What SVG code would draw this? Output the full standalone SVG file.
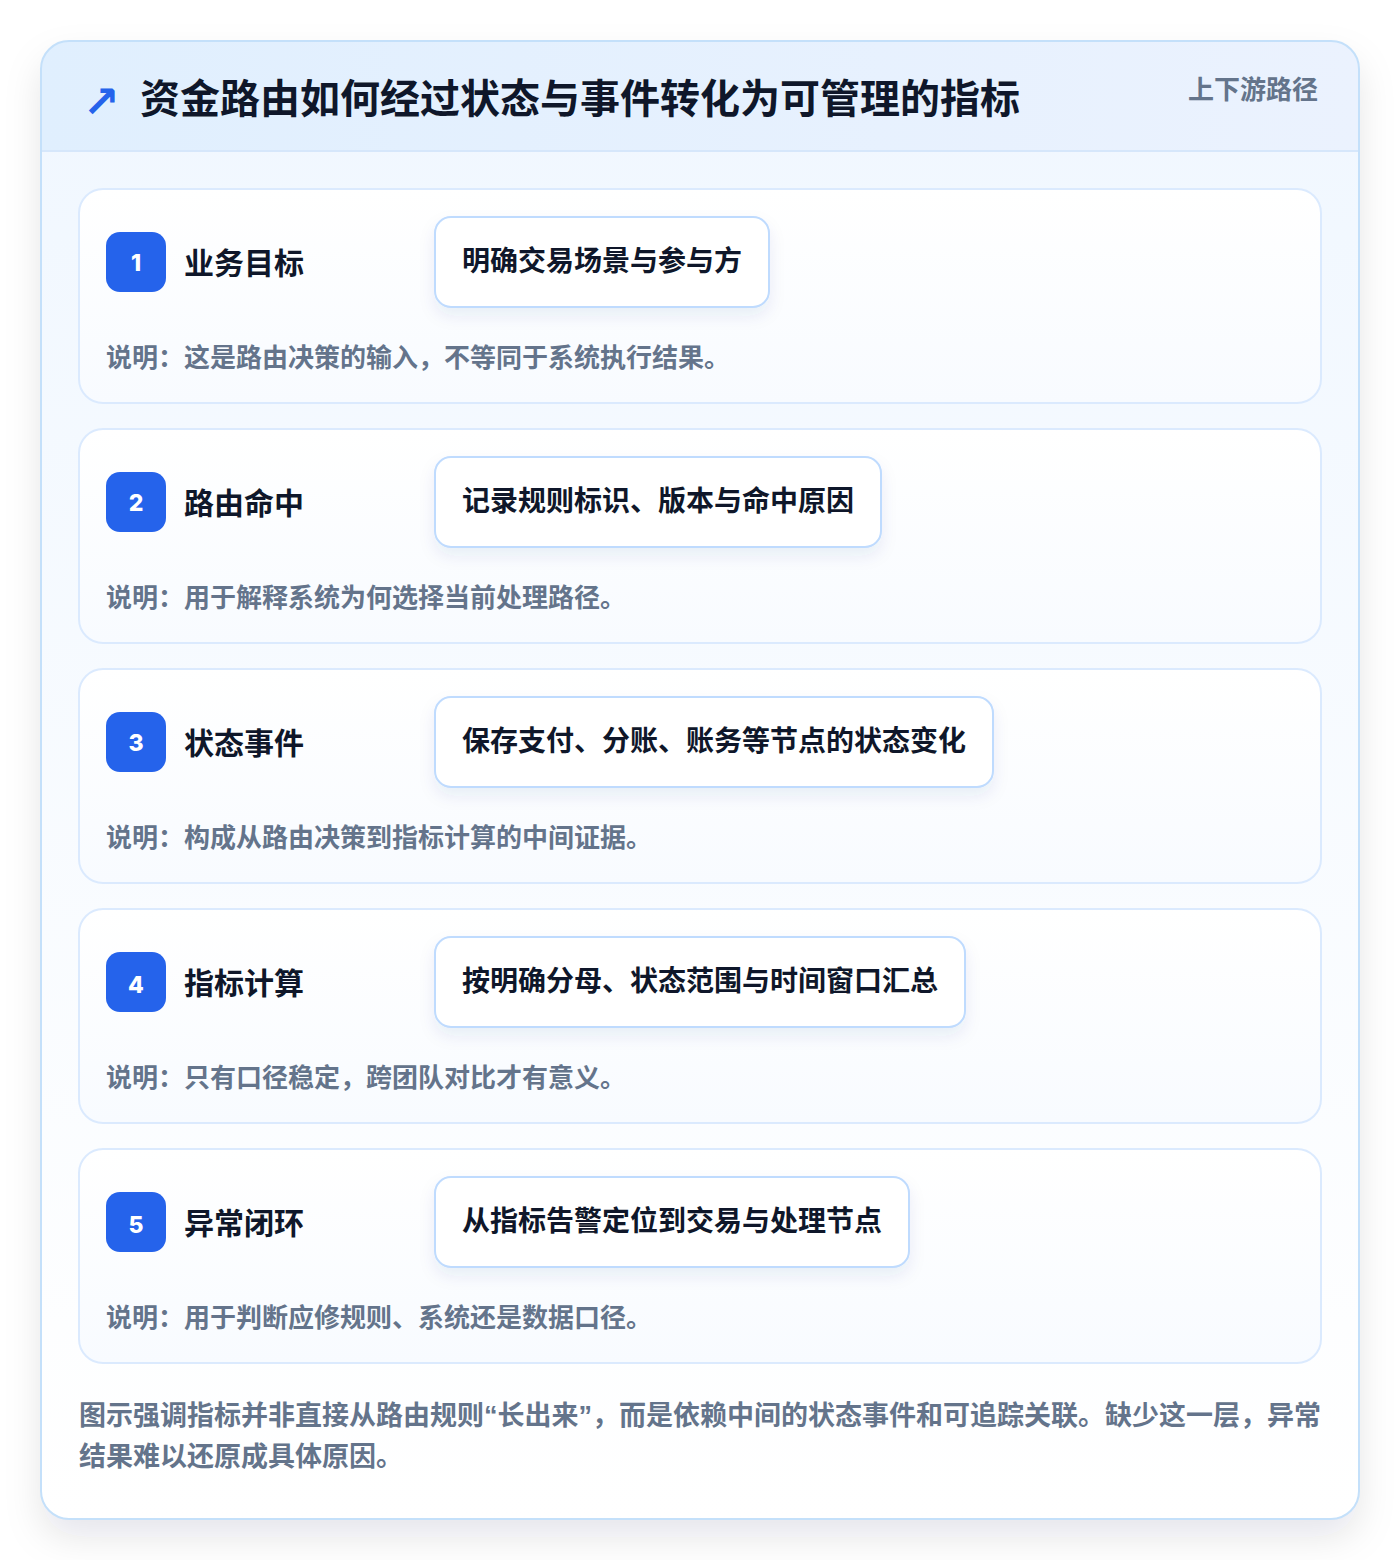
<svg xmlns="http://www.w3.org/2000/svg" width="1400" height="1560" viewBox="0 0 1400 1560">
<defs>
<linearGradient id="hdr" x1="0" y1="0" x2="1" y2="0"><stop offset="0" stop-color="#e0effe"/><stop offset="1" stop-color="#ebf2fe"/></linearGradient>
<linearGradient id="body" x1="0" y1="0" x2="0" y2="1"><stop offset="0" stop-color="#f0f7ff"/><stop offset="1" stop-color="#ffffff"/></linearGradient>
<linearGradient id="cardg" x1="0" y1="0" x2="0" y2="1"><stop offset="0" stop-color="#ffffff"/><stop offset="1" stop-color="#f8fbff"/></linearGradient>
<filter id="outerShadow" x="-10%" y="-10%" width="120%" height="120%"><feDropShadow dx="0" dy="18" stdDeviation="18" flood-color="#0f172a" flood-opacity="0.10"/></filter>
<filter id="pillShadow" x="-20%" y="-30%" width="140%" height="170%"><feDropShadow dx="0" dy="8" stdDeviation="8" flood-color="#1e3a8a" flood-opacity="0.08"/></filter>
<clipPath id="outerClip"><rect x="41" y="41" width="1318" height="1478" rx="28"/></clipPath>
<style>
.t{font-family:"Noto Sans CJK SC","Noto Sans",sans-serif;font-weight:700}
.title{font-size:40px;fill:#0f172a}
.tag{font-size:26px;fill:#64748b}
.card{fill:url(#cardg);stroke:#dbeafe;stroke-width:2}
.badge{fill:#2563eb}
.num{font-size:23px;fill:#ffffff;text-anchor:middle;font-family:"Inter","Noto Sans",sans-serif;font-weight:800}
.lbl{font-size:30px;fill:#0f172a}
.pill{fill:#ffffff;stroke:#bfdbfe;stroke-width:2}
.ptxt{font-size:28px;fill:#0f172a}
.desc{font-size:26px;fill:#64748b}
.foot{font-size:27px;fill:#64748b}
.q{font-family:"Liberation Sans",sans-serif}
</style>
</defs>
<rect width="1400" height="1560" fill="#ffffff"/>
<g id="frame">
<rect x="41" y="41" width="1318" height="1478" rx="28" fill="url(#body)" filter="url(#outerShadow)"/>
<g clip-path="url(#outerClip)">
<rect x="41" y="41" width="1318" height="110" fill="url(#hdr)"/>
<line x1="41" y1="151" x2="1359" y2="151" stroke="#d6e7fb" stroke-width="2"/>
</g>
<rect x="41" y="41" width="1318" height="1478" rx="28" fill="none" stroke="#c4e0fa" stroke-width="2"/>
</g>
<g id="header">
<text x="83" y="117" font-family="DejaVu Sans,sans-serif" font-weight="700" font-size="44" fill="#2563eb">↗</text>
<text class="t title" x="140" y="113">资金路由如何经过状态与事件转化为可管理的指标</text>
<text class="t tag" x="1318" y="99" text-anchor="end">上下游路径</text>
</g>
<g id="step1">
<rect class="card" x="79" y="189" width="1242" height="214" rx="24"/>
<rect class="badge" x="106" y="232" width="60" height="60" rx="14"/>
<text class="num" x="136" y="271">1</text>
<text class="t lbl" x="184" y="274">业务目标</text>
<rect class="pill" x="435" y="217" width="334" height="90" rx="16" filter="url(#pillShadow)"/>
<text class="t ptxt" x="462" y="271">明确交易场景与参与方</text>
<text class="t desc" x="106" y="367">说明：这是路由决策的输入，不等同于系统执行结果。</text>
</g>
<g id="step2">
<rect class="card" x="79" y="429" width="1242" height="214" rx="24"/>
<rect class="badge" x="106" y="472" width="60" height="60" rx="14"/>
<text class="num" x="136" y="511">2</text>
<text class="t lbl" x="184" y="514">路由命中</text>
<rect class="pill" x="435" y="457" width="446" height="90" rx="16" filter="url(#pillShadow)"/>
<text class="t ptxt" x="462" y="511">记录规则标识、版本与命中原因</text>
<text class="t desc" x="106" y="607">说明：用于解释系统为何选择当前处理路径。</text>
</g>
<g id="step3">
<rect class="card" x="79" y="669" width="1242" height="214" rx="24"/>
<rect class="badge" x="106" y="712" width="60" height="60" rx="14"/>
<text class="num" x="136" y="751">3</text>
<text class="t lbl" x="184" y="754">状态事件</text>
<rect class="pill" x="435" y="697" width="558" height="90" rx="16" filter="url(#pillShadow)"/>
<text class="t ptxt" x="462" y="751">保存支付、分账、账务等节点的状态变化</text>
<text class="t desc" x="106" y="847">说明：构成从路由决策到指标计算的中间证据。</text>
</g>
<g id="step4">
<rect class="card" x="79" y="909" width="1242" height="214" rx="24"/>
<rect class="badge" x="106" y="952" width="60" height="60" rx="14"/>
<text class="num" x="136" y="993">4</text>
<text class="t lbl" x="184" y="994">指标计算</text>
<rect class="pill" x="435" y="937" width="530" height="90" rx="16" filter="url(#pillShadow)"/>
<text class="t ptxt" x="462" y="991">按明确分母、状态范围与时间窗口汇总</text>
<text class="t desc" x="106" y="1087">说明：只有口径稳定，跨团队对比才有意义。</text>
</g>
<g id="step5">
<rect class="card" x="79" y="1149" width="1242" height="214" rx="24"/>
<rect class="badge" x="106" y="1192" width="60" height="60" rx="14"/>
<text class="num" x="136" y="1233">5</text>
<text class="t lbl" x="184" y="1234">异常闭环</text>
<rect class="pill" x="435" y="1177" width="474" height="90" rx="16" filter="url(#pillShadow)"/>
<text class="t ptxt" x="462" y="1231">从指标告警定位到交易与处理节点</text>
<text class="t desc" x="106" y="1327">说明：用于判断应修规则、系统还是数据口径。</text>
</g>
<g id="connectors"></g>
<g id="footer">
<text class="t foot" x="79" y="1425">图示强调指标并非直接从路由规则<tspan class="q">“</tspan>长出来<tspan class="q">”</tspan>，而是依赖中间的状态事件和可追踪关联。缺少这一层，异常</text>
<text class="t foot" x="79" y="1466">结果难以还原成具体原因。</text>
</g>
</svg>
